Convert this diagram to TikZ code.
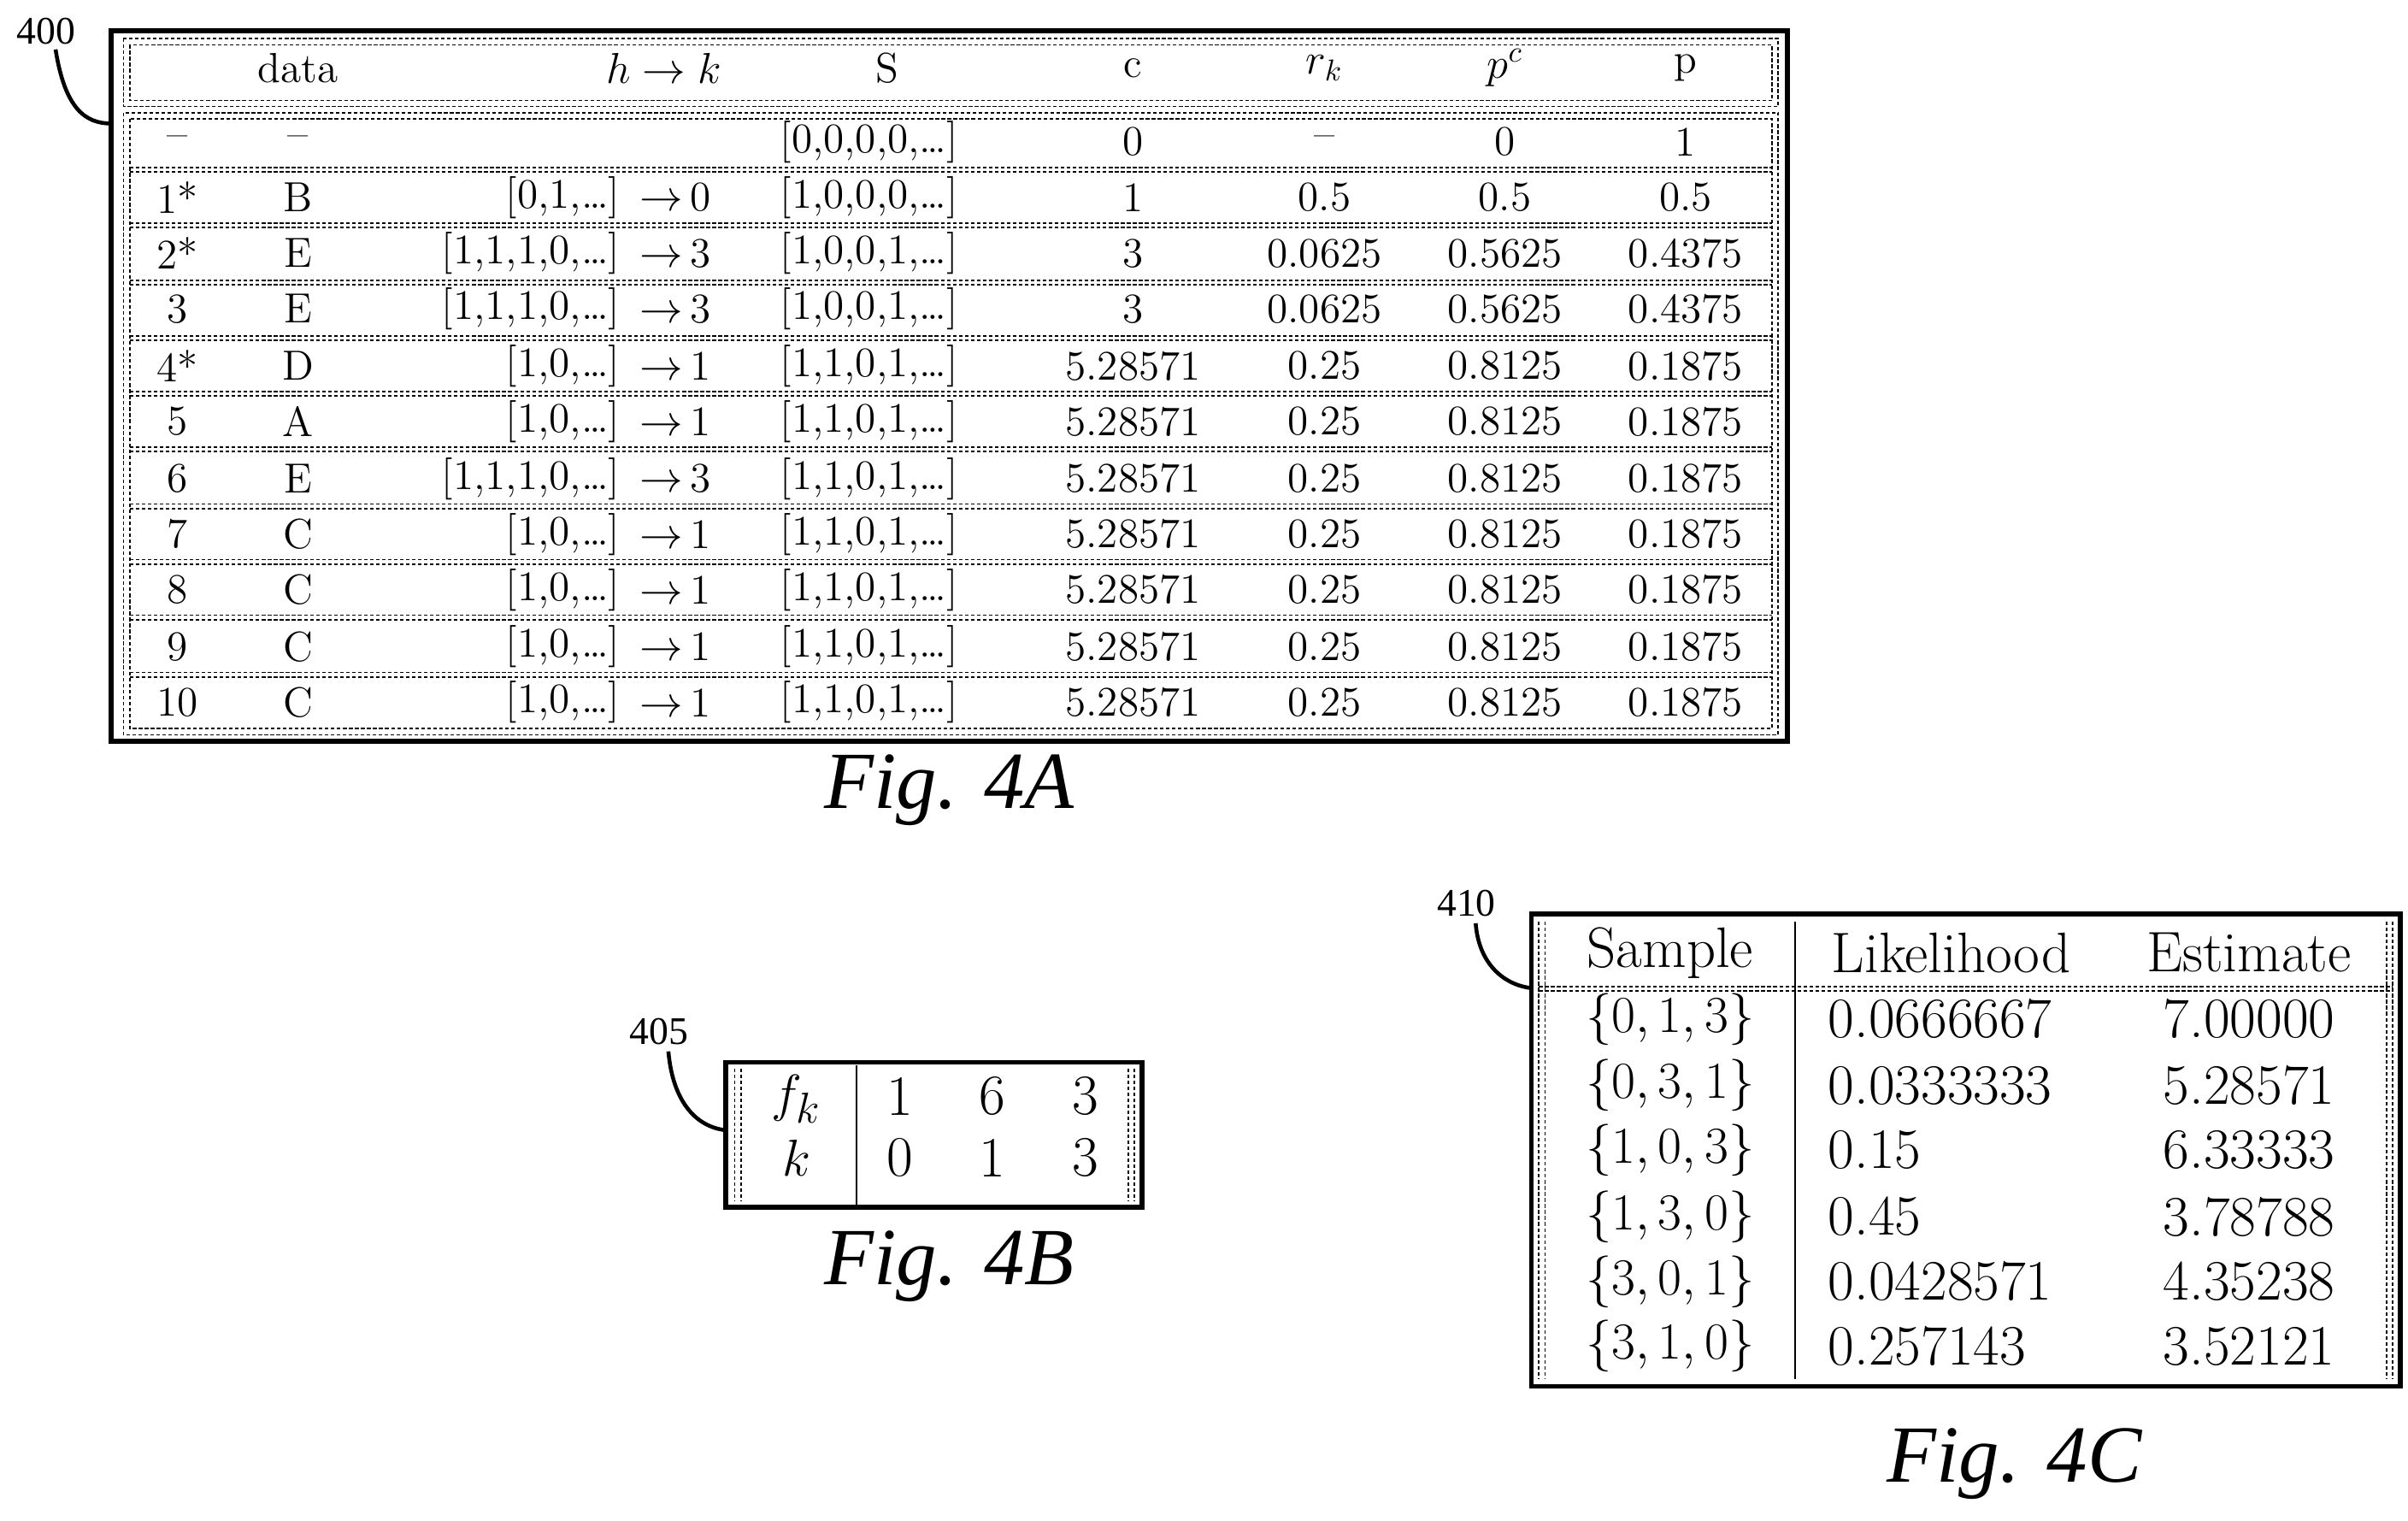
\documentclass[tikz,border=0pt]{standalone}
\usepackage{fontspec}
\newfontfamily\tnr{Liberation Serif}
\begin{document}
\begin{tikzpicture}[x=0.1806mm,y=-0.1806mm,
  outer/.style={line width=1.6pt},
  dd/.style={line width=0.5pt,dash pattern=on 1.2pt off 0.8pt},
  thin/.style={line width=0.5pt},
  ta/.style={font=\fontsize{14}{16}\selectfont,inner sep=0pt},
  tc/.style={font=\fontsize{19}{22}\selectfont,inner sep=0pt},
  figcap/.style={font=\tnr\itshape\fontsize{27}{30}\selectfont},
  lab/.style={font=\tnr\fontsize{13}{15}\selectfont},
  lead/.style={line width=1.3pt}]
\useasboundingbox (0,0) rectangle (1560,985);
% ---------- Fig 4A ----------
\draw[outer] (72,20) rectangle (1158,480);
\draw[dd] (80,25) rectangle (1152,69);
\draw[dd] (84,29) rectangle (1148,65);
\draw[dd] (80,73) rectangle (1152,476);
\draw[dd] (84,77) rectangle (1148,472);
\foreach \y in {110,146,183,219,255,291,328,364,400,437}{
  \draw[dd] (84,\y-1.5) -- (1148,\y-1.5);
  \draw[dd] (84,\y+1.5) -- (1148,\y+1.5);}
\node[ta] (hd1) at (193,44) {data};
\node[ta] (hd2) at (430,44) {$h\rightarrow k$};
\node[ta] (hd3) at (575,44) {S};
\node[ta] (hd4) at (734,44) {c};
\node[ta] (hd5) at (858,44) {$r_k$};
\node[ta] (hd6) at (975,44) {$p^c$};
\node[ta] (hd7) at (1092,44) {p};
\foreach [count=\i] \y/\a/\b/\h/\k/\s/\c/\r/\pc/\p in {
 92/--/--/{}/{}/{[0,0,0,0,\ldots]}/0/--/0/1,
 128/1*/B/{[0,1,\ldots]}/0/{[1,0,0,0,\ldots]}/1/0.5/0.5/0.5,
 164/2*/E/{[1,1,1,0,\ldots]}/3/{[1,0,0,1,\ldots]}/3/0.0625/0.5625/0.4375,
 200/3/E/{[1,1,1,0,\ldots]}/3/{[1,0,0,1,\ldots]}/3/0.0625/0.5625/0.4375,
 237/4*/D/{[1,0,\ldots]}/1/{[1,1,0,1,\ldots]}/5.28571/0.25/0.8125/0.1875,
 273/5/A/{[1,0,\ldots]}/1/{[1,1,0,1,\ldots]}/5.28571/0.25/0.8125/0.1875,
 310/6/E/{[1,1,1,0,\ldots]}/3/{[1,1,0,1,\ldots]}/5.28571/0.25/0.8125/0.1875,
 346/7/C/{[1,0,\ldots]}/1/{[1,1,0,1,\ldots]}/5.28571/0.25/0.8125/0.1875,
 382/8/C/{[1,0,\ldots]}/1/{[1,1,0,1,\ldots]}/5.28571/0.25/0.8125/0.1875,
 419/9/C/{[1,0,\ldots]}/1/{[1,1,0,1,\ldots]}/5.28571/0.25/0.8125/0.1875,
 455/10/C/{[1,0,\ldots]}/1/{[1,1,0,1,\ldots]}/5.28571/0.25/0.8125/0.1875}{
  \node[ta] (a\i) at (115,\y) {\a};
  \node[ta] (b\i) at (193,\y) {\b};
  \node[ta,anchor=east] (h\i) at (402,\y) {\h};
  \ifx\k\empty\else\node[ta,anchor=west] (k\i) at (414,\y) {$\rightarrow$\,\k};\fi
  \node[ta,anchor=west] (s\i) at (505,\y) {\s};
  \node[ta] (c\i) at (734,\y) {\c};
  \node[ta] (r\i) at (858,\y) {\r};
  \node[ta] (pc\i) at (975,\y) {\pc};
  \node[ta] (p\i) at (1092,\y) {\p};
}
\node[lab] (l400) at (30,20) {400};
\coordinate (e400) at (72,80);
\draw[lead] (36,32) .. controls (42,70) and (55,80) .. (e400);
\node[figcap] (f4a) at (615,512) {Fig. 4A};
% ---------- Fig 4B ----------
\draw[outer] (470,688) rectangle (740,782);
\draw[dd] (476,692) -- (476,778); \draw[dd] (480,692) -- (480,778);
\draw[dd] (731,692) -- (731,778); \draw[dd] (735,692) -- (735,778);
\draw[thin] (555,690) -- (555,780);
\node[tc] (fk) at (516,712) {$f_k$};
\node[tc] (kk) at (516,750) {$k$};
\foreach [count=\i] \x/\u/\v in {583/1/0,643/6/1,703/3/3}{
  \node[tc] (bu\i) at (\x,710) {\u};
  \node[tc] (bv\i) at (\x,750) {\v};}
\node[lab] (l405) at (427,668) {405};
\coordinate (e405) at (470,732);
\draw[lead] (433,681) .. controls (436,715) and (452,730) .. (e405);
\node[figcap] (f4b) at (615,820) {Fig. 4B};
% ---------- Fig 4C ----------
\draw[outer] (992,592) rectangle (1555,898);
\draw[dd] (997,597) -- (997,893); \draw[dd] (1001,597) -- (1001,893);
\draw[dd] (1546,597) -- (1546,893); \draw[dd] (1550,597) -- (1550,893);
\draw[thin] (1163,597) -- (1163,893);
\draw[dd] (997,639) -- (1550,639); \draw[dd] (997,642) -- (1550,642);
\node[tc] (hs) at (1082,617) {Sample};
\node[tc] (hl) at (1264,617) {Likelihood};
\node[tc] (he) at (1457,617) {Estimate};
\foreach [count=\i] \y/\s/\l/\e in {660/{0,1,3}/0.0666667/7.00000,
 703/{0,3,1}/0.0333333/5.28571, 745/{1,0,3}/0.15/6.33333,
 788/{1,3,0}/0.45/3.78788, 830/{3,0,1}/0.0428571/4.35238,
 872/{3,1,0}/0.257143/3.52121}{
  \node[tc] (cs\i) at (1082,\y) {$\{\s\}$};
  \node[tc,anchor=west] (cl\i) at (1184,\y) {\l};
  \node[tc] (ce\i) at (1457,\y) {\e};}
\node[lab] (l410) at (950,585) {410};
\coordinate (e410) at (992,640);
\draw[lead] (956,598) .. controls (958,625) and (975,638) .. (e410);
\node[figcap] (f4c) at (1305,948) {Fig. 4C};
\end{tikzpicture}
\end{document}
